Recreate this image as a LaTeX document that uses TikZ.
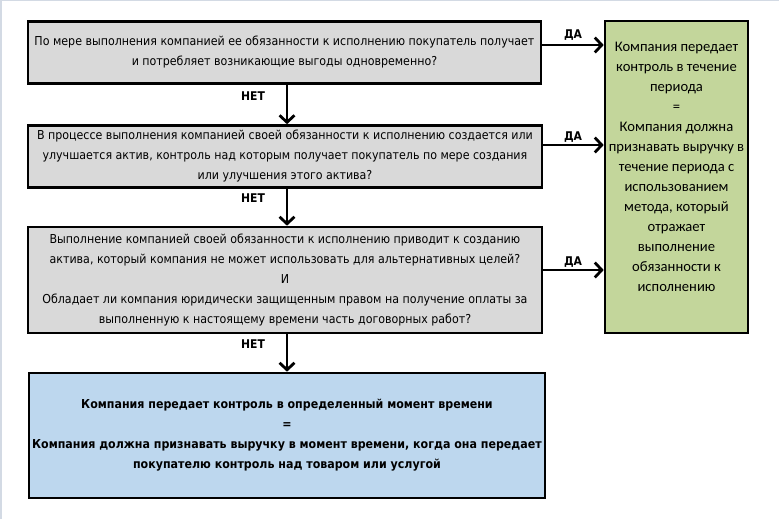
\documentclass[tikz,border=0pt]{standalone}
\usepackage{fontspec}
\usetikzlibrary{arrows.meta}
\newfontfamily\tahfont{DejaVu Sans Condensed}[BoldFont={DejaVu Sans Condensed Bold}]
\newfontfamily\carlitofont{Carlito}
\definecolor{boxgray}{HTML}{D9D9D9}
\definecolor{boxgreen}{HTML}{C3D69B}
\definecolor{boxblue}{HTML}{BDD7EE}
\definecolor{edge}{HTML}{D3DAE4}
\tikzset{
  qbox/.style={draw=black, line width=2.6pt, fill=boxgray, inner sep=0pt, align=center,
    font=\tahfont\fontsize{12.3}{20}\selectfont},
  gbox/.style={draw=black, line width=2.6pt, fill=boxgreen, inner sep=0pt},
  gtext/.style={align=center, inner sep=0pt, font=\carlitofont\fontsize{14.6}{20}\selectfont},
  bbox/.style={draw=black, line width=2.6pt, fill=boxblue, inner sep=0pt, align=center,
    font=\tahfont\bfseries\fontsize{12.3}{20}\selectfont},
  flow/.style={line width=2.8pt, -{Straight Barb[length=7pt,width=15pt]}},
  lab/.style={font=\tahfont\bfseries\fontsize{12}{14}\selectfont, inner sep=0pt},
}
\begin{document}
\begin{tikzpicture}[x=1pt,y=-1pt]
\useasboundingbox (0,0) rectangle (779,519);
\fill[white] (0,0) rectangle (779,519);
\draw[edge, line width=1.5pt] (0.75,519) -- (0.75,0.75) -- (779,0.75);

\node[qbox, minimum width=513, minimum height=62] (q1) at (284.5,52.5)
  {По мере выполнения компанией ее обязанности к исполнению покупатель получает\\
   и потребляет возникающие выгоды одновременно?};
\node[qbox, minimum width=514, minimum height=62] (q2) at (285,156.5)
  {В процессе выполнения компанией своей обязанности к исполнению создается или\\
   улучшается актив, контроль над которым получает покупатель по мере создания\\
   или улучшения этого актива?};
\node[qbox, minimum width=514, minimum height=106] (q3) at (285,280)
  {Выполнение компанией своей обязанности к исполнению приводит к созданию\\
   актива, который компания не может использовать для альтернативных целей?\\
   И\\
   Обладает ли компания юридически защищенным правом на получение оплаты за\\
   выполненную к настоящему времени часть договорных работ?};
\node[gbox, minimum width=143, minimum height=312] (g) at (676.5,177) {};
\node[gtext] (gt) at (676.5,167)
  {Компания передает\\контроль в течение\\периода\\=\\Компания должна\\признавать выручку в\\течение периода с\\использованием\\метода, который\\отражает\\выполнение\\обязанности к\\исполнению};
\node[bbox, minimum width=516, minimum height=125] (r) at (287,435.5)
  {Компания передает контроль в определенный момент времени\\
   =\\
   Компания должна признавать выручку в момент времени, когда она передает\\
   покупателю контроль над товаром или услугой};

\coordinate (a1) at (287,83);
\draw[flow] (a1) -- (a1 |- q2.north);
\coordinate (a2) at (287,187);
\draw[flow] (a2) -- (a2 |- q3.north);
\coordinate (a3) at (287,333);
\draw[flow] (a3) -- (a3 |- r.north);

\coordinate (h1) at (541,45);
\draw[flow] (h1) -- (h1 -| g.west);
\coordinate (h2) at (542,145);
\draw[flow] (h2) -- (h2 -| g.west);
\coordinate (h3) at (542,270);
\draw[flow] (h3) -- (h3 -| g.west);

\node[lab] (n1) at (253,96) {НЕТ};
\node[lab] (n2) at (253,198) {НЕТ};
\node[lab] (n3) at (253,344) {НЕТ};
\node[lab] (d1) at (573,35) {ДА};
\node[lab] (d2) at (573,137) {ДА};
\node[lab] (d3) at (573,262) {ДА};
\end{tikzpicture}
\end{document}
